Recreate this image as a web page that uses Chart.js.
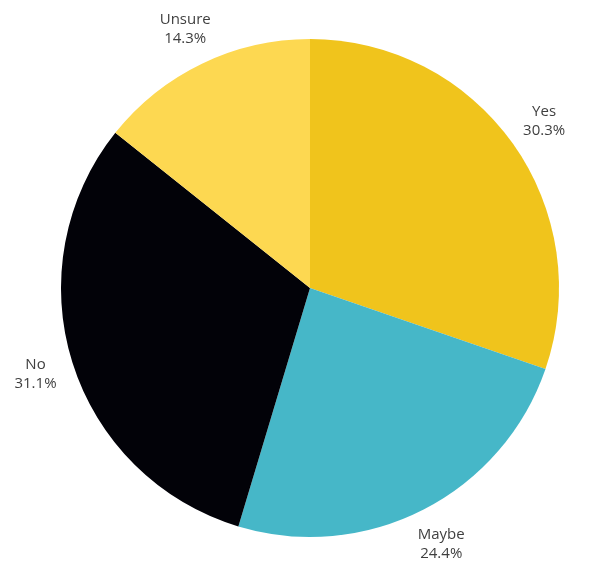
<!DOCTYPE html>
<html>
<head>
<meta charset="utf-8">
<script src="https://cdn.jsdelivr.net/npm/chart.js@4/dist/chart.umd.min.js"></script>
<style>
  html, body { margin: 0; padding: 0; background: #fff; }
  canvas { display: block; }
</style>
</head>
<body>
<canvas id="pie" width="591" height="567"></canvas>
<script>
// slices, clockwise from 12 o'clock
const categories = ['Yes', 'Maybe', 'No', 'Unsure'];
const shares = [30.3, 24.4, 31.1, 14.3];
const sliceColors = ['#f0c41c', '#46b7c8', '#020208', '#fdd851'];

// outside labels: name on top, percent below
const outsideLabels = {
  id: 'outsideLabels',
  afterDatasetsDraw(chart) {
    const ctx = chart.ctx;
    const meta = chart.getDatasetMeta(0);
    ctx.save();
    ctx.font = '15px "Open Sans", sans-serif';
    ctx.fillStyle = '#3f3f3f';
    ctx.textAlign = 'center';
    ctx.textBaseline = 'middle';
    meta.data.forEach((arc, i) => {
      const p = arc.getProps(['x', 'y', 'startAngle', 'endAngle', 'outerRadius'], true);
      const mid = (p.startAngle + p.endAngle) / 2;
      const r = p.outerRadius * 1.155;
      const x = p.x + Math.cos(mid) * r;
      const y = p.y + Math.sin(mid) * r;
      ctx.fillText(categories[i], x, y - 9);
      ctx.fillText(shares[i].toFixed(1) + '%', x, y + 10);
    });
    ctx.restore();
  }
};

new Chart(document.getElementById('pie'), {
  type: 'pie',
  data: {
    labels: categories,
    datasets: [{
      data: shares,
      backgroundColor: sliceColors,
      borderWidth: 0
    }]
  },
  options: {
    responsive: false,
    animation: false,
    layout: { padding: { left: 61, right: 32, top: 39, bottom: 30 } },
    plugins: {
      legend: { display: false },
      tooltip: { enabled: false }
    }
  },
  plugins: [outsideLabels]
});
</script>
</body>
</html>
